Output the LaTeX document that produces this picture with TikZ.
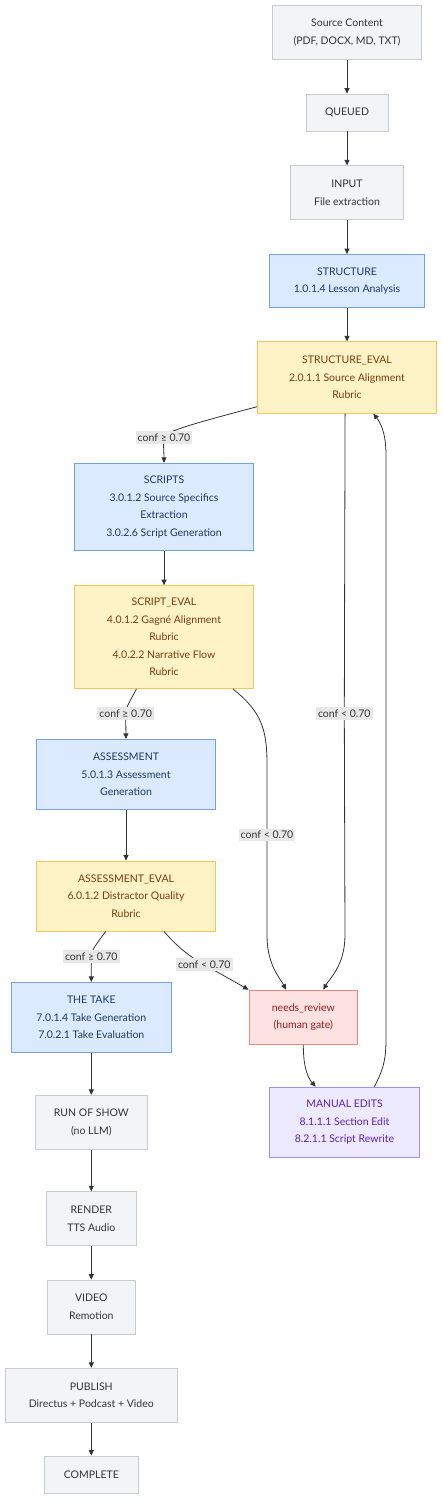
\documentclass[tikz,border=0pt]{standalone}
\usepackage{fontspec}
\setmainfont{Lato}
\usetikzlibrary{arrows.meta}
\definecolor{grayfill}{HTML}{F3F4F6}
\definecolor{graydraw}{HTML}{C8CCD2}
\definecolor{graytext}{HTML}{333333}
\definecolor{bluefill}{HTML}{DBEAFE}
\definecolor{bluedraw}{HTML}{6FA2E6}
\definecolor{bluetext}{HTML}{1E3A5F}
\definecolor{yelfill}{HTML}{FEF3C7}
\definecolor{yeldraw}{HTML}{F4C55A}
\definecolor{yeltext}{HTML}{7A3B0C}
\definecolor{redfill}{HTML}{FEE2E2}
\definecolor{reddraw}{HTML}{EE8585}
\definecolor{redtext}{HTML}{991B1B}
\definecolor{purfill}{HTML}{EDE9FE}
\definecolor{purdraw}{HTML}{A78BFA}
\definecolor{purtext}{HTML}{5B21B6}
\definecolor{edgecol}{HTML}{333333}
\definecolor{lblfill}{HTML}{E8E8E8}
\begin{document}
\begin{tikzpicture}[x=1pt,y=1pt,
  box/.style={draw, line width=0.8pt, align=center, inner sep=0pt, font=\fontsize{10.5}{17.6}\selectfont},
  graybox/.style={box, fill=grayfill, draw=graydraw, text=graytext},
  bluebox/.style={box, fill=bluefill, draw=bluedraw, text=bluetext},
  yelbox/.style={box, fill=yelfill, draw=yeldraw, text=yeltext},
  redbox/.style={box, fill=redfill, draw=reddraw, text=redtext},
  purbox/.style={box, fill=purfill, draw=purdraw, text=purtext},
  edge/.style={draw=edgecol, line width=0.8pt, -{Triangle[length=5.5pt,width=5pt]}},
  lbl/.style={fill=lblfill, text=graytext, inner xsep=2pt, inner ysep=2.5pt, font=\fontsize{10.5}{12}\selectfont}]
\useasboundingbox (0,0) rectangle (442,-1500);
\fill[white] (0,0) rectangle (442,-1500);

\node[graybox, minimum width=149, minimum height=53.5] (src) at (347,-32.5) {Source Content\\(PDF, DOCX, MD, TXT)};
\node[graybox, minimum width=82, minimum height=37] (queued) at (347,-112.5) {QUEUED};
\node[graybox, minimum width=113, minimum height=53.6] (input) at (347,-192.5) {INPUT\\File extraction};
\node[bluebox, minimum width=155, minimum height=53] (struct) at (347,-281) {STRUCTURE\\1.0.1.4 Lesson Analysis};
\node[yelbox, minimum width=179.4, minimum height=71.6] (seval) at (347,-377.5) {STRUCTURE\_EVAL\\2.0.1.1 Source Alignment\\Rubric};
\node[bluebox, minimum width=179.4, minimum height=87.4] (scripts) at (164,-507) {SCRIPTS\\3.0.1.2 Source Specifics\\Extraction\\3.0.2.6 Script Generation};
\node[yelbox, minimum width=179.4, minimum height=103] (sceval) at (164,-637) {SCRIPT\_EVAL\\4.0.1.2 Gagné Alignment\\Rubric\\4.0.2.2 Narrative Flow\\Rubric};
\node[bluebox, minimum width=179.4, minimum height=70.4] (assess) at (126,-774.5) {ASSESSMENT\\5.0.1.3 Assessment\\Generation};
\node[yelbox, minimum width=179.4, minimum height=70] (aeval) at (126,-896) {ASSESSMENT\_EVAL\\6.0.1.2 Distractor Quality\\Rubric};
\node[bluebox, minimum width=160.7, minimum height=70] (take) at (91.3,-1017.3) {THE TAKE\\7.0.1.4 Take Generation\\7.0.2.1 Take Evaluation};
\node[redbox, minimum width=108.7, minimum height=54.3] (review) at (303.3,-1017.2) {needs\_review\\(human gate)};
\node[purbox, minimum width=150.4, minimum height=70.3] (manual) at (344.5,-1122.2) {MANUAL EDITS\\8.1.1.1 Section Edit\\8.2.1.1 Script Rewrite};
\node[graybox, minimum width=111.3, minimum height=54] (ros) at (91.3,-1122.3) {RUN OF SHOW\\(no LLM)};
\node[graybox, minimum width=90.7, minimum height=54] (render) at (91.3,-1218.7) {RENDER\\TTS Audio};
\node[graybox, minimum width=88, minimum height=54] (video) at (91.3,-1307) {VIDEO\\Remotion};
\node[graybox, minimum width=172, minimum height=54] (publish) at (91.3,-1395.3) {PUBLISH\\Directus + Podcast + Video};
\node[graybox, minimum width=93.3, minimum height=37.7] (complete) at (91.3,-1474.8) {COMPLETE};

\coordinate (l1) at (164,-437.7);
\coordinate (l2) at (125.7,-713.7);
\coordinate (l3) at (267,-835);
\coordinate (l4) at (344.3,-713.7);
\coordinate (l5) at (91.3,-956.3);
\coordinate (l6) at (204.3,-964.7);

\draw[edge] (src) -- (queued);
\draw[edge] (queued) -- (input);
\draw[edge] (input) -- (struct);
\draw[edge] (struct) -- (seval);
\draw[edge] (scripts) -- (sceval);
\draw[edge] (assess) -- (aeval);
\draw[edge] (take) -- (ros);
\draw[edge] (ros) -- (render);
\draw[edge] (render) -- (video);
\draw[edge] (video) -- (publish);
\draw[edge] (publish) -- (complete);

\draw[edge] (seval.198) .. controls (180,-427) and (166,-432) .. (l1) .. controls (163,-445) and (164,-450) .. (scripts.north);
\draw[edge] (sceval.242) .. controls (131,-700) and (126,-706) .. (l2) -- (assess.north);
\draw[edge] (sceval.323) .. controls (262,-712) and (267,-730) .. (267,-765) -- (l3) -- (267,-935) .. controls (267,-965) and (280,-978) .. (review.122.5);
\draw[edge] (seval.267) -- (l4) -- (345,-935) .. controls (345,-965) and (330,-978) .. (review.54.5);
\draw[edge] (aeval.240) .. controls (96,-945) and (91.3,-950) .. (l5) -- (take.north);
\draw[edge] (aeval.317) .. controls (180,-950) and (195,-960) .. (l6) -- (review.north west);
\draw[edge] (review.south) .. controls (303.3,-1068) and (308,-1078) .. (manual.129);
\draw[edge] (manual.50.7) .. controls (382,-1072) and (386,-1062) .. (386,-1040) -- (386,-455) .. controls (386,-432) and (380,-422) .. (seval.306);

\node[lbl] at (l1) {conf ≥ 0.70};
\node[lbl] at (l2) {conf ≥ 0.70};
\node[lbl] at (l3) {conf < 0.70};
\node[lbl] at (l4) {conf < 0.70};
\node[lbl] at (l5) {conf ≥ 0.70};
\node[lbl] at (l6) {conf < 0.70};
\end{tikzpicture}
\end{document}
